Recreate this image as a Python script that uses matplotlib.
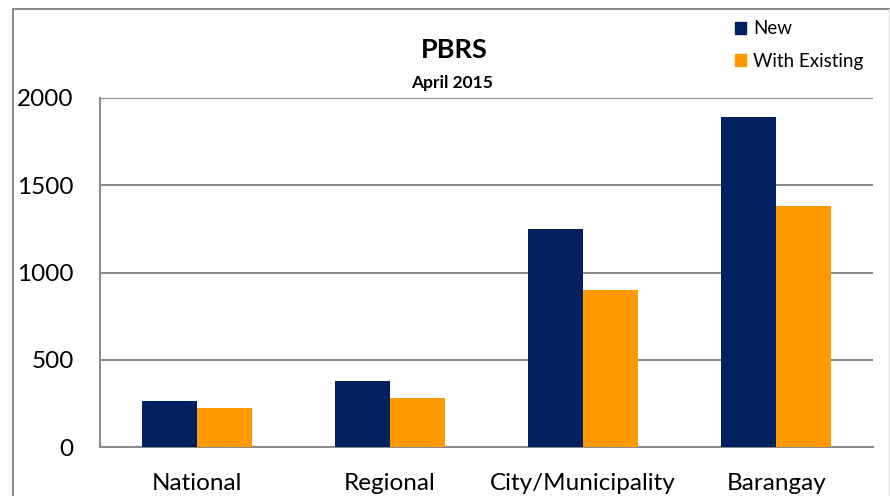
import numpy as np
import matplotlib
matplotlib.use("Agg")
import matplotlib.pyplot as plt
from matplotlib.patches import Rectangle, Patch
from matplotlib.lines import Line2D

categories = ["National", "Regional", "City/Municipality", "Barangay"]
new_vals = [263, 380, 1249, 1891]
existing_vals = [222, 282, 898, 1379]
y_ticks = [0, 500, 1000, 1500, 2000]

plt.rcParams['font.family'] = ['Lato', 'DejaVu Sans']

fig = plt.figure(figsize=(8.9, 4.96), dpi=100)
ax = fig.add_axes([100 / 890, 1 - 447 / 496, 773 / 890, 349 / 496])

# outer chart border
fig.patches.append(Rectangle((13 / 890, -0.05), 1.2, 1 - 9 / 496 + 0.05,
                             transform=fig.transFigure, fill=False,
                             edgecolor='#8c8c8c', linewidth=1.5))
fig.lines.append(Line2D([888.5 / 890, 888.5 / 890], [0, 1 - 9 / 496],
                        transform=fig.transFigure, color='#e2e2e2', linewidth=1))

x = np.arange(len(categories))
w = 0.285
ax.bar(x - w / 2, new_vals, width=w, color='#002060', label='New', zorder=3)
ax.bar(x + w / 2, existing_vals, width=w, color='#FF9900', label='With Existing', zorder=3)

ax.set_xlim(-0.5, len(categories) - 0.5)
ax.set_ylim(0, 2000)
ax.set_yticks(y_ticks)
ax.set_yticklabels([str(t) for t in y_ticks], fontsize=17.5)
ax.set_xticks(x)
ax.set_xticklabels(categories, fontsize=17.5)
ax.tick_params(axis='both', length=0)
ax.tick_params(axis='x', pad=19)
ax.tick_params(axis='y', pad=19)
ax.yaxis.grid(True, color='#8c8c8c', linewidth=1.5, zorder=0)

for s in ['top', 'right']:
    ax.spines[s].set_visible(False)
for s in ['left', 'bottom']:
    ax.spines[s].set_color('#8c8c8c')
    ax.spines[s].set_linewidth(1.5)

fig.text(454 / 890, 1 - 50 / 496, "PBRS", ha='center', va='center',
         fontsize=19.5, fontweight='bold')
fig.text(452 / 890, 1 - 83 / 496, "April 2015", ha='center', va='center',
         fontsize=12.5, fontweight='bold')

handles = [Patch(color='#002060', label='New'), Patch(color='#FF9900', label='With Existing')]
fig.legend(handles=handles, loc='upper left', bbox_to_anchor=(727 / 890, 1 - 13 / 496),
           frameon=False, fontsize=13.5, handlelength=0.6, handleheight=0.6,
           handletextpad=0.4, labelspacing=0.8, borderaxespad=0)

fig.savefig("out.png", dpi=100)
